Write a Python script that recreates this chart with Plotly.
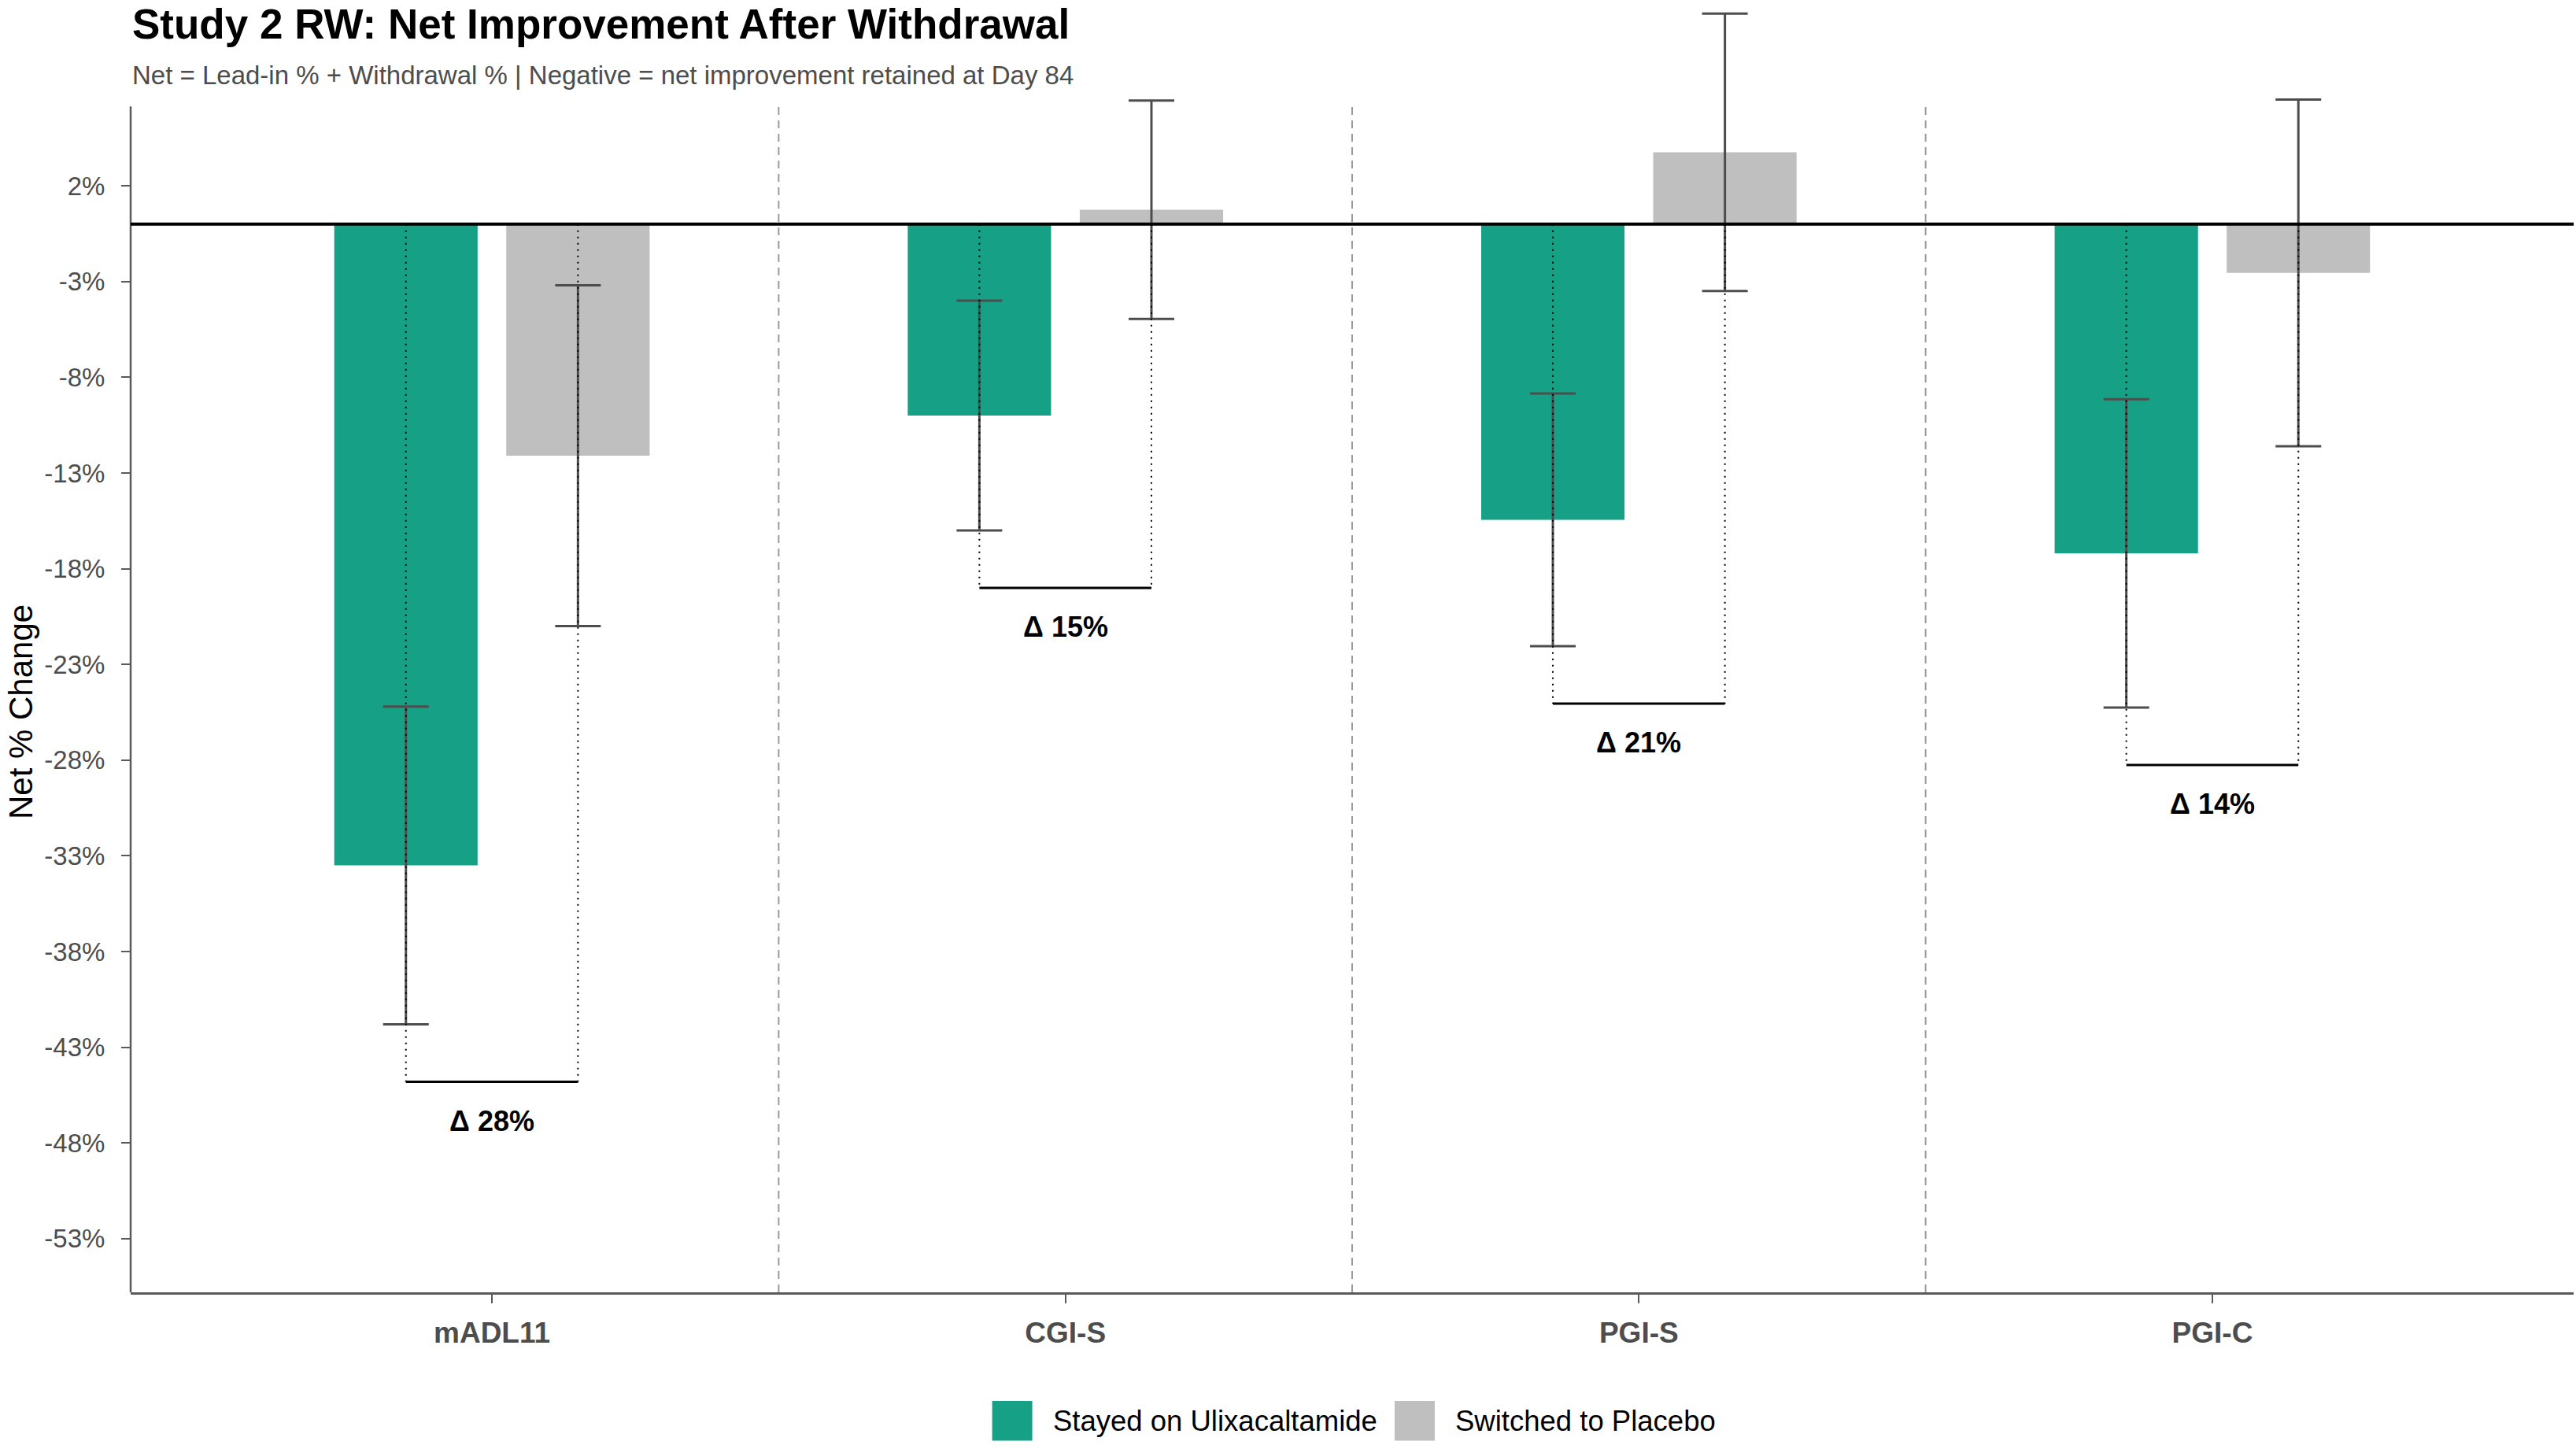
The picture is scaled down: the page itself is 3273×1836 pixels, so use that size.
import plotly.graph_objects as go

# ---- data -------------------------------------------------------------
categories = ["mADL11", "CGI-S", "PGI-S", "PGI-C"]
stayed_net = [-33.5, -10.0, -15.45, -17.2]      # Stayed on Ulixacaltamide, net % change
stayed_ci = [8.3, 6.0, 6.6, 8.05]               # half-width of interval
placebo_net = [-12.1, 0.75, 3.75, -2.55]        # Switched to Placebo, net % change
placebo_ci = [8.9, 5.7, 7.25, 9.05]
delta_pct = [28, 15, 21, 14]                    # between-arm difference shown under each pair
y_ticks = [2, -3, -8, -13, -18, -23, -28, -33, -38, -43, -48, -53]

# ---- styling ----------------------------------------------------------
GREEN = "#16A085"
GREY = "#BFBFBF"
ERR = "#4D4D4D"
AXIS = "#5A5A5A"
FONT = "Liberation Sans"

DODGE = 0.15
BAR_W = 0.25
Y_MIN, Y_PANEL_TOP, Y_MAX = -55.8, 6.15, 11.5
X_MIN, X_MAX = -0.63, 3.63

W, H = 3273, 1836
M_L, M_R, M_T, M_B = 166, 3, 5, 194
PLOT_W = W - M_L - M_R
PLOT_H = H - M_T - M_B


def px_x(p):
    """page pixel -> paper x"""
    return (p - M_L) / PLOT_W


def px_y(p):
    """page pixel -> paper y"""
    return (H - M_B - p) / PLOT_H


idx = list(range(len(categories)))
x_stay = [i - DODGE for i in idx]
x_plac = [i + DODGE for i in idx]
bracket_y = [min(s - se, p - pe) - 3
             for s, se, p, pe in zip(stayed_net, stayed_ci, placebo_net, placebo_ci)]

fig = go.Figure()

fig.add_trace(go.Bar(
    x=x_stay, y=stayed_net, width=BAR_W, name="Stayed on Ulixacaltamide",
    marker=dict(color=GREEN, line=dict(width=0)),
    error_y=dict(type="data", array=stayed_ci, color=ERR, thickness=3, width=29),
    showlegend=False,
))
fig.add_trace(go.Bar(
    x=x_plac, y=placebo_net, width=BAR_W, name="Switched to Placebo",
    marker=dict(color=GREY, line=dict(width=0)),
    error_y=dict(type="data", array=placebo_ci, color=ERR, thickness=3, width=29),
    showlegend=False,
))

# dotted drop lines from zero to the comparison bracket
dx, dy = [], []
for i in idx:
    for xv in (x_stay[i], x_plac[i]):
        dx += [xv, xv, None]
        dy += [0, bracket_y[i], None]
fig.add_trace(go.Scatter(
    x=dx, y=dy, mode="lines", hoverinfo="skip", showlegend=False,
    line=dict(color="black", width=2, dash="2px,6px"),
))

# comparison brackets
bx, by = [], []
for i in idx:
    bx += [x_stay[i], x_plac[i], None]
    by += [bracket_y[i], bracket_y[i], None]
fig.add_trace(go.Scatter(
    x=bx, y=by, mode="lines", hoverinfo="skip", showlegend=False,
    line=dict(color="black", width=3),
))

shapes = []
# separators between measures
for i in idx[:-1]:
    shapes.append(dict(type="line", xref="x", yref="y", x0=i + 0.5, x1=i + 0.5,
                       y0=Y_MIN, y1=Y_PANEL_TOP, layer="below",
                       line=dict(color="#9A9A9A", width=2, dash="10px,7px")))
# left axis line (panel height only)
shapes.append(dict(type="line", xref="paper", yref="y", x0=0, x1=0,
                   y0=Y_MIN, y1=Y_PANEL_TOP, line=dict(color=AXIS, width=2.5)))
# zero reference line
shapes.append(dict(type="line", xref="paper", yref="y", x0=0, x1=1, y0=0, y1=0,
                   layer="above", line=dict(color="black", width=4)))
# legend keys
for x0, col in ((1260.6, GREEN), (1772, GREY)):
    shapes.append(dict(type="rect", xref="paper", yref="paper",
                       x0=px_x(x0), x1=px_x(x0 + 51), y0=px_y(1830.5), y1=px_y(1780),
                       fillcolor=col, line=dict(width=0)))

annotations = [
    dict(text="<b>Study 2 RW: Net Improvement After Withdrawal</b>", xref="paper", yref="paper",
         x=0, y=px_y(31), xanchor="left", yanchor="middle", showarrow=False,
         font=dict(family=FONT, size=53, color="black")),
    dict(text="Net = Lead-in % + Withdrawal % | Negative = net improvement retained at Day 84",
         xref="paper", yref="paper", x=0, y=px_y(95), xanchor="left", yanchor="middle",
         showarrow=False, font=dict(family=FONT, size=33, color="#4D4D4D")),
    dict(text="Net % Change", xref="paper", yref="paper", x=px_x(26), y=px_y(905),
         textangle=-90, xanchor="center", yanchor="middle", showarrow=False,
         font=dict(family=FONT, size=42, color="black")),
    dict(text="Stayed on Ulixacaltamide", xref="paper", yref="paper", x=px_x(1336),
         y=px_y(1805), xanchor="left", yanchor="middle", showarrow=False,
         font=dict(family=FONT, size=36.5, color="black")),
    dict(text="Switched to Placebo", xref="paper", yref="paper", x=px_x(1847),
         y=px_y(1805), xanchor="left", yanchor="middle", showarrow=False,
         font=dict(family=FONT, size=36.5, color="black")),
]
for i in idx:
    annotations.append(dict(
        text=f"<b>Δ {delta_pct[i]}%</b>", x=i, y=bracket_y[i] - 2.05, xref="x", yref="y",
        xanchor="center", yanchor="middle", showarrow=False,
        font=dict(family=FONT, size=36, color="black"),
    ))

fig.update_layout(
    width=W, height=H,
    margin=dict(l=M_L, r=M_R, t=M_T, b=M_B, pad=0),
    paper_bgcolor="white", plot_bgcolor="white",
    barmode="overlay",
    font=dict(family=FONT),
    showlegend=False,
    shapes=shapes,
    annotations=annotations,
    xaxis=dict(
        range=[X_MIN, X_MAX], tickvals=idx, ticktext=categories,
        showgrid=False, zeroline=False, showline=True, linecolor=AXIS, linewidth=2.5,
        ticks="outside", ticklen=11, tickwidth=2, tickcolor=AXIS,
        tickfont=dict(family=FONT, size=37, color="#4D4D4D", weight="bold"),
        ticklabelstandoff=6,
    ),
    yaxis=dict(
        range=[Y_MIN, Y_MAX], tickvals=y_ticks, ticktext=[f"{v}%" for v in y_ticks],
        showgrid=False, zeroline=False, showline=False,
        ticks="outside", ticklen=11, tickwidth=2, tickcolor=AXIS,
        tickfont=dict(family=FONT, size=33, color="#4D4D4D"),
        ticklabelstandoff=14,
    ),
)

fig.write_html("out.html")
